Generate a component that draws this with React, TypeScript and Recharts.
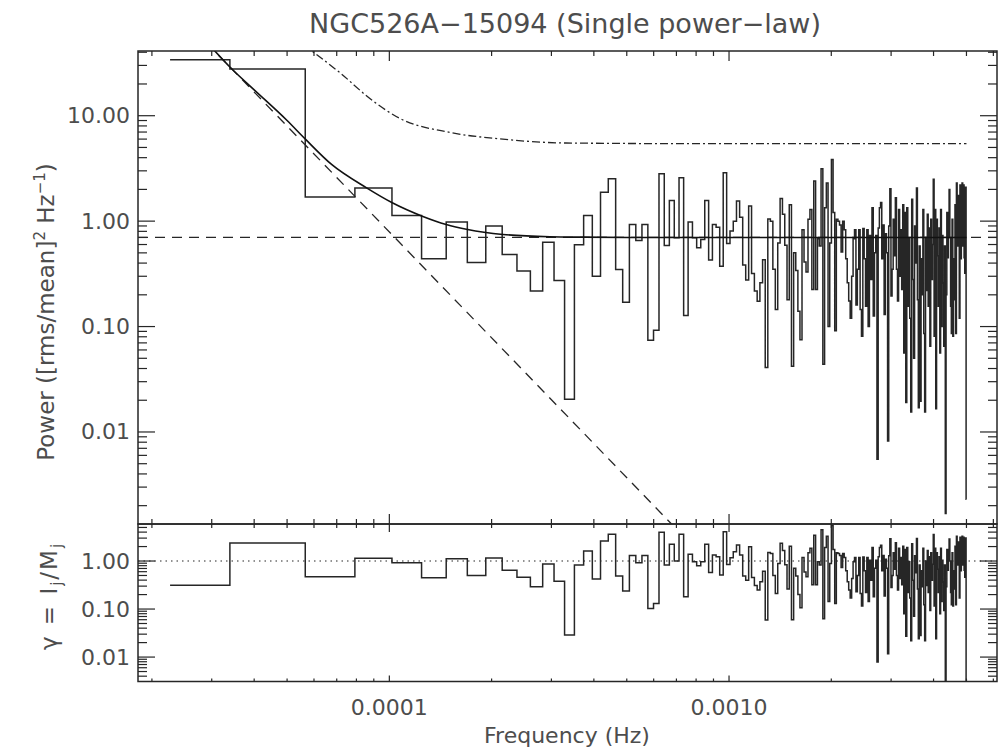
import React from 'react';
import { LineChart, Line, XAxis, YAxis, ReferenceLine } from 'recharts';

// frequency resolution of the periodogram (Hz); bin k sits at k * DF
const DF = 2.262e-5;

// periodogram power, bins k = 1..221
const POWER = [
  34.0, 27.7, 1.69, 2.06, 1.13, 0.44, 0.98, 0.405, 0.897, 0.483,
  0.336, 0.217, 0.632, 0.273, 0.0204, 0.597, 1.13, 0.3, 1.88, 2.53,
  0.348, 0.17, 0.93, 0.656, 0.93, 0.074, 0.0925, 2.82, 0.588, 1.57,
  0.695, 2.58, 0.127, 0.98, 0.695, 0.56, 0.67, 1.57, 0.427, 0.93,
  0.877, 0.374, 2.88, 0.614, 0.804, 1.0, 1.55, 1.09, 0.383, 0.276,
  1.39, 0.319, 0.217, 0.174, 0.26, 0.43, 0.041, 1.05, 1.0, 0.35,
  0.145, 0.62, 1.64, 1.16, 0.59, 0.18, 1.43, 0.042, 0.5, 0.34,
  0.14, 0.075, 0.83, 0.41, 0.33, 1.04, 1.29, 0.225, 2.4, 0.225,
  0.68, 0.58, 3.14, 0.044, 1.34, 2.3, 0.1, 0.62, 3.84, 1.21,
  0.091, 1.04, 1.0, 0.92, 0.51, 1.0, 0.83, 0.44, 0.26, 0.175,
  0.12, 0.3, 0.68, 0.83, 0.16, 0.35, 0.83, 0.145, 0.081, 0.85,
  0.44, 0.156, 0.83, 0.1, 0.73, 0.28, 1.34, 0.126, 0.5, 0.73,
  0.0055, 0.86, 1.34, 1.5, 0.44, 0.92, 0.13, 0.76, 0.5, 0.0082,
  0.9, 2.03, 0.195, 0.35, 1.04, 0.47, 1.67, 0.35, 0.175, 1.29,
  0.3, 0.83, 0.225, 1.43, 0.056, 1.21, 0.019, 1.34, 0.156, 0.68,
  0.12, 0.0155, 1.61, 0.28, 0.05, 0.9, 0.4, 2.06, 0.18, 0.017,
  0.58, 0.0196, 0.44, 0.2, 1.29, 0.086, 0.0155, 0.7, 0.22, 1.16,
  0.156, 0.86, 0.065, 1.04, 0.28, 0.6, 2.49, 0.081, 1.29, 0.0166,
  1.04, 0.47, 0.156, 0.86, 0.056, 1.29, 0.1, 0.73, 0.26, 0.065,
  0.58, 0.00169, 0.2, 1.21, 0.45, 0.9, 2.0, 0.7, 0.156, 0.086,
  1.04, 0.081, 0.44, 0.18, 1.43, 0.086, 2.3, 0.58, 1.75, 1.29,
  0.12, 2.2, 0.44, 0.76, 2.3, 0.58, 2.2, 0.45, 0.32, 2.1, 0.0023,
];

// data / model ratio, same bins
const RATIO = [
  0.312, 2.37, 0.471, 1.14, 0.92, 0.45, 1.12, 0.5, 1.15, 0.64,
  0.457, 0.29, 0.866, 0.377, 0.0287, 0.825, 1.62, 0.42, 2.61, 3.6,
  0.487, 0.237, 1.31, 0.92, 1.31, 0.103, 0.131, 3.96, 0.825, 2.23,
  1.0, 3.6, 0.18, 1.38, 0.97, 0.8, 0.97, 2.23, 0.58, 1.33,
  1.23, 0.51, 4.08, 0.85, 1.17, 1.56, 2.15, 1.33, 0.49, 0.4,
  1.99, 0.456, 0.31, 0.25, 0.37, 0.61, 0.059, 1.5, 1.43, 0.5,
  0.21, 0.89, 2.34, 1.66, 0.84, 0.26, 2.04, 0.06, 0.71, 0.49,
  0.2, 0.107, 1.19, 0.59, 0.47, 1.49, 1.84, 0.32, 3.43, 0.32,
  0.97, 0.83, 4.49, 0.063, 1.91, 3.29, 0.143, 0.89, 5.49, 1.73,
  0.13, 1.49, 1.43, 1.31, 0.73, 1.43, 1.19, 0.63, 0.37, 0.25,
  0.17, 0.43, 0.97, 1.19, 0.23, 0.5, 1.19, 0.21, 0.116, 1.21,
  0.63, 0.22, 1.19, 0.143, 1.04, 0.4, 1.91, 0.18, 0.71, 1.04,
  0.0079, 1.23, 1.91, 2.14, 0.63, 1.31, 0.186, 1.09, 0.71, 0.0117,
  1.29, 2.9, 0.28, 0.5, 1.49, 0.67, 2.39, 0.5, 0.25, 1.84,
  0.43, 1.19, 0.32, 2.04, 0.08, 1.73, 0.027, 1.91, 0.22, 0.97,
  0.17, 0.022, 2.3, 0.4, 0.071, 1.29, 0.57, 2.94, 0.26, 0.024,
  0.83, 0.028, 0.63, 0.29, 1.84, 0.123, 0.022, 1.0, 0.31, 1.66,
  0.22, 1.23, 0.093, 1.49, 0.4, 0.86, 3.56, 0.116, 1.84, 0.024,
  1.49, 0.67, 0.22, 1.23, 0.08, 1.84, 0.143, 1.04, 0.37, 0.093,
  0.83, 0.0024, 0.29, 1.73, 0.64, 1.29, 2.86, 1.0, 0.22, 0.123,
  1.49, 0.116, 0.63, 0.26, 2.04, 0.123, 3.29, 0.83, 2.5, 1.84,
  0.17, 3.14, 0.63, 1.09, 3.29, 0.83, 3.14, 0.64, 0.46, 3.0, 0.0033,
];

// best-fit model (power law + constant)
const MODEL_F = [2.95e-5, 3.41e-5, 4.0e-5, 5.0e-5, 5.67e-5, 6.76e-5, 8.57e-5, 1.02e-4, 1.25e-4, 1.47e-4, 1.7e-4, 2.16e-4, 2.97e-4, 3.71e-4, 6.0e-4, 1.0e-3, 5.0e-3];
const MODEL_P = [47, 28.5, 17.6, 9.0, 5.96, 3.45, 2.07, 1.495, 1.115, 0.93, 0.834, 0.748, 0.711, 0.705, 0.7, 0.7, 0.7];

// power-law component (straight in log-log)
const PL_F = [2.9e-5, 7.0e-4];
const PL_P = [49, 1.2e-3];

// constant (white noise) level
const CONST_LEVEL = 0.7;

// dash-dot significance curve
const SIG_F = [5.6e-5, 5.83e-5, 7.15e-5, 8.96e-5, 1.074e-4, 1.507e-4, 2.117e-4, 3.31e-4, 8.2e-4, 5.0e-3];
const SIG_P = [47, 42.6, 25.6, 13.75, 9.43, 6.94, 6.03, 5.51, 5.43, 5.43];

const X_MAJOR = [1e-4, 1e-3];
const X_LABELS = ['0.0001', '0.0010'];
const Y_MAJOR = [0.01, 0.1, 1, 10];
const P_LABELS = ['0.01', '0.10', '1.00', '10.00'];
const R_LABELS = ['0.01', '0.10', '1.00'];

const X_DOMAIN = [1.82e-5, 6.15e-3];
const P_DOMAIN = [1.34e-3, 41.1];
const R_DOMAIN = [3.1e-3, 5.9];

const PLOT_L = 138;
const PLOT_R = 997;
const TOP_T = 51;
const MID = 524;
const BOT_B = 681.5;
const PLOT_W = PLOT_R - PLOT_L;

const INK = '#262626';
const TXT = '#4d4d4d';
const FONT = '"DejaVu Sans", sans-serif';

const FREQ = POWER.map((_, i) => (i + 1) * DF);

// histogram-style steps, edges halfway between neighbouring bins
const toSteps = (vals: number[]) => {
  const pts: { x: number; y: number }[] = [];
  vals.forEach((v, i) => {
    const f = FREQ[i];
    const lo = i === 0 ? f : (FREQ[i - 1] + f) / 2;
    const hi = i === vals.length - 1 ? f : (f + FREQ[i + 1]) / 2;
    pts.push({ x: lo, y: v }, { x: hi, y: v });
  });
  return pts;
};

const pairs = (xs: number[], ys: number[]) => xs.map((x, i) => ({ x, y: ys[i] }));

const isDecade = (v: number) => Math.abs(Math.log10(v) - Math.round(Math.log10(v))) < 1e-6;

const logTicks = (lo: number, hi: number) => {
  const out: number[] = [];
  for (let e = -6; e <= 2; e++) {
    for (let m = 1; m <= 9; m++) {
      const v = m * Math.pow(10, e);
      if (v >= lo && v <= hi) out.push(v);
    }
  }
  return out;
};

const labelFor = (v: number, majors: number[], labels: string[]) => {
  const i = majors.findIndex((m) => Math.abs(m - v) / m < 1e-6);
  return i >= 0 && i < labels.length ? labels[i] : null;
};

// y ticks point inward from both the left and the right frame
const yTick = (majorLen: number, minorLen: number, labels: string[]) => (props: any) => {
  const { y, payload } = props;
  const x = PLOT_L;
  const v = payload.value;
  const major = isDecade(v);
  const len = major ? majorLen : minorLen;
  const txt = labelFor(v, Y_MAJOR, labels);
  return (
    <g>
      <line x1={x} x2={x + len} y1={y} y2={y} stroke={INK} strokeWidth={1.2} />
      <line x1={PLOT_R} x2={PLOT_R - len} y1={y} y2={y} stroke={INK} strokeWidth={1.2} />
      {txt && (
        <text x={x - 8} y={y} textAnchor="end" dominantBaseline="central" fontSize={22} fontFamily={FONT} fill={TXT}>
          {txt}
        </text>
      )}
    </g>
  );
};

// x ticks point inward from the bottom and the top frame
const xTick = (top: number, bottom: number, bottomLen: number[], topLen: number[], labels: boolean) => (props: any) => {
  const { x, payload } = props;
  const v = payload.value;
  const major = isDecade(v);
  const bl = major ? bottomLen[0] : bottomLen[1];
  const tl = major ? topLen[0] : topLen[1];
  const txt = labels ? labelFor(v, X_MAJOR, X_LABELS) : null;
  return (
    <g>
      <line x1={x} x2={x} y1={bottom} y2={bottom - bl} stroke={INK} strokeWidth={1.2} />
      <line x1={x} x2={x} y1={top} y2={top + tl} stroke={INK} strokeWidth={1.2} />
      {txt && (
        <text x={x} y={bottom + 33} textAnchor="middle" fontSize={22} fontFamily={FONT} fill={TXT}>
          {txt}
        </text>
      )}
    </g>
  );
};

const X_TICKS = logTicks(X_DOMAIN[0], X_DOMAIN[1]);
const P_TICKS = logTicks(P_DOMAIN[0], P_DOMAIN[1]);
const R_TICKS = logTicks(R_DOMAIN[0], R_DOMAIN[1]);

export default function App() {
  const powerSteps = toSteps(POWER);
  const ratioSteps = toSteps(RATIO);
  const topH = MID - TOP_T;
  const botH = BOT_B - MID;

  return (
    <div style={{ position: 'absolute', left: 0, top: 0, width: 998, height: 750, background: '#fff' }}>
      <div style={{ position: 'absolute', left: 0, top: 0 }}>
        <LineChart width={998} height={540} margin={{ top: TOP_T, right: 998 - PLOT_R, bottom: 540 - MID - 1, left: PLOT_L - 1 }}>
          <XAxis
            dataKey="x"
            type="number"
            scale="log"
            domain={X_DOMAIN}
            allowDataOverflow
            ticks={X_TICKS}
            interval={0}
            height={1}
            axisLine={false}
            tickLine={false}
            tickSize={0}
            tickMargin={0}
            tick={xTick(TOP_T, MID, [10, 5], [10, 5], false)}
          />
          <YAxis
            dataKey="y"
            type="number"
            scale="log"
            domain={P_DOMAIN}
            allowDataOverflow
            ticks={P_TICKS}
            interval={0}
            width={1}
            axisLine={false}
            tickLine={false}
            tickSize={0}
            tickMargin={0}
            tick={yTick(17, 9, P_LABELS)}
          />
          <ReferenceLine y={CONST_LEVEL} stroke={INK} strokeWidth={1.3} strokeDasharray="10 7" />
          <Line data={pairs(PL_F, PL_P)} dataKey="y" type="linear" stroke={INK} strokeWidth={1.3} strokeDasharray="10 7" dot={false} isAnimationActive={false} />
          <Line data={pairs(SIG_F, SIG_P)} dataKey="y" type="monotone" stroke={INK} strokeWidth={1.3} strokeDasharray="8 3 2 3" dot={false} isAnimationActive={false} />
          <Line data={powerSteps} dataKey="y" type="linear" stroke={INK} strokeWidth={1.5} dot={false} isAnimationActive={false} />
          <Line data={pairs(MODEL_F, MODEL_P)} dataKey="y" type="monotone" stroke="#111" strokeWidth={1.6} dot={false} isAnimationActive={false} />
        </LineChart>
      </div>
      <div style={{ position: 'absolute', left: 0, top: 0 }}>
        <LineChart width={998} height={750} margin={{ top: MID, right: 998 - PLOT_R, bottom: 750 - BOT_B - 1, left: PLOT_L - 1 }}>
          <XAxis
            dataKey="x"
            type="number"
            scale="log"
            domain={X_DOMAIN}
            allowDataOverflow
            ticks={X_TICKS}
            interval={0}
            height={1}
            axisLine={false}
            tickLine={false}
            tickSize={0}
            tickMargin={0}
            tick={xTick(MID, BOT_B, [6, 3], [8, 4], true)}
          />
          <YAxis
            dataKey="y"
            type="number"
            scale="log"
            domain={R_DOMAIN}
            allowDataOverflow
            ticks={R_TICKS}
            interval={0}
            width={1}
            axisLine={false}
            tickLine={false}
            tickSize={0}
            tickMargin={0}
            tick={yTick(17, 9, R_LABELS)}
          />
          <ReferenceLine y={1} stroke={INK} strokeWidth={1.2} strokeDasharray="1.5 4" />
          <Line data={ratioSteps} dataKey="y" type="linear" stroke={INK} strokeWidth={1.5} dot={false} isAnimationActive={false} />
        </LineChart>
      </div>
      <svg width={998} height={750} style={{ position: 'absolute', left: 0, top: 0, pointerEvents: 'none' }}>
        <rect x={PLOT_L} y={TOP_T} width={PLOT_W} height={topH} fill="none" stroke={INK} strokeWidth={1.5} />
        <rect x={PLOT_L} y={MID} width={PLOT_W} height={botH} fill="none" stroke={INK} strokeWidth={1.5} />
        <text x={565} y={33} textAnchor="middle" fontSize={27} fontFamily={FONT} fill={TXT}>
          NGC526A−15094 (Single power−law)
        </text>
        <text x={567} y={743} textAnchor="middle" fontSize={22} fontFamily={FONT} fill={TXT}>
          Frequency (Hz)
        </text>
        <text transform="translate(54,312) rotate(-90)" textAnchor="middle" fontSize={23} fontFamily={FONT} fill={TXT}>
          Power ([rms/mean]<tspan dy={-9} fontSize={15}>2</tspan>
          <tspan dy={9}> Hz</tspan>
          <tspan dy={-9} fontSize={15}>−1</tspan>
          <tspan dy={9}>)</tspan>
        </text>
        <text transform="translate(57,596) rotate(-90)" textAnchor="middle" fontSize={23} fontFamily={FONT} fill={TXT} letterSpacing={2}>
          γ = I<tspan dy={5} fontSize={15}>j</tspan>
          <tspan dy={-5}>/M</tspan>
          <tspan dy={5} fontSize={15}>j</tspan>
        </text>
      </svg>
    </div>
  );
}
